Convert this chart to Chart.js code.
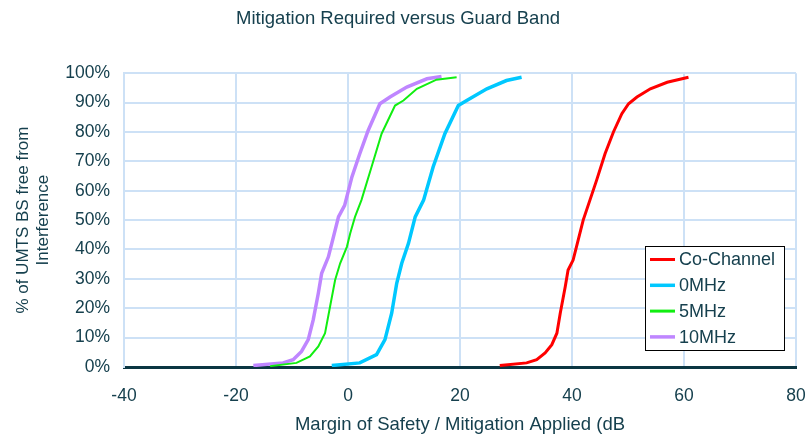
<!DOCTYPE html>
<html>
<head>
<meta charset="utf-8">
<script src="https://cdn.jsdelivr.net/npm/chart.js@4.4.1/dist/chart.umd.min.js"></script>
<style>
  html, body { margin: 0; padding: 0; background: #fff; }
  #wrap { width: 808px; height: 437px; }
</style>
</head>
<body>
<div id="wrap"><canvas id="guardBandChart" width="808" height="437"></canvas></div>
<script>
const seriesNames = ['Co-Channel', '0MHz', '5MHz', '10MHz'];

// margin values (dB) and cumulative %
const coChannelX = [27.1, 31.9, 33.7, 35.2, 36.4, 37.3, 37.9, 38.8, 39.3, 40.2, 41.1, 42, 43.2, 44.4, 45.9, 47.4, 48.9, 50.1, 51.6, 54, 57, 60.8];
const coChannelY = [0.5, 1.4, 2.5, 4.8, 7.6, 11.5, 18.3, 27.4, 33, 36.4, 43.2, 50, 56.8, 63.6, 72.6, 80, 86.2, 89.6, 91.9, 94.7, 96.9, 98.6];

const mhz0X = [-2.9, 2.1, 5.1, 6.6, 7.8, 8.7, 9.6, 10.8, 12, 13.5, 15.2, 17.3, 19.7, 21.2, 24.8, 28.3, 31];
const mhz0Y = [0.5, 1.4, 4.2, 9.3, 18.3, 28.5, 35.3, 42.1, 51.1, 56.8, 68.1, 79.4, 89, 90.7, 94.7, 97.5, 98.6];

const mhz5X = [-13.9, -9.2, -6.8, -5.3, -4.1, -3.2, -2.3, -1.4, -0.2, 0.4, 1.25, 2.4, 4.2, 6, 8.4, 9.9, 12.3, 15.8, 19.4];
const mhz5Y = [0.3, 1.4, 3.6, 7, 11.5, 20.6, 29.6, 35.3, 40.9, 45.5, 51.1, 56.8, 68.1, 79.4, 89, 90.7, 94.7, 97.8, 98.6];

const mhz10X = [-16.9, -11.6, -9.8, -8.3, -7.1, -6.2, -5.3, -4.7, -3.5, -2.6, -1.7, -0.6, 0.7, 2.1, 3.6, 5.7, 7.5, 10.5, 14.1, 16.7];
const mhz10Y = [0.5, 1.4, 2.5, 5.3, 9.3, 16.1, 25.1, 31.9, 37.5, 44.3, 51.1, 55, 64.7, 72.6, 80.5, 89.6, 91.9, 95.3, 98.1, 98.9];

const xTicks = [-40, -20, 0, 20, 40, 60, 80];
const yTicks = [0, 10, 20, 30, 40, 50, 60, 70, 80, 90, 100];

const textColor = '#16404e';
const gridColor = '#cde1f6';
const fontFamily = "'Liberation Sans', Arial, sans-serif";

function toPoints(xs, ys) {
  return xs.map((x, i) => ({ x: x, y: ys[i] }));
}

const colors = ['#ff0000', '#00c8ff', '#11ee11', '#bf86ff'];
const widths = [3, 3.5, 2, 3.5];
const allX = [coChannelX, mhz0X, mhz5X, mhz10X];
const allY = [coChannelY, mhz0Y, mhz5Y, mhz10Y];

const datasets = seriesNames.map((name, i) => ({
  label: name,
  data: toPoints(allX[i], allY[i]),
  borderColor: colors[i],
  backgroundColor: colors[i],
  borderWidth: widths[i],
  showLine: true,
  pointRadius: 0,
  tension: 0,
  fill: false
}));

// legend box drawn inside the plot, lower right
const boxLegend = {
  id: 'boxLegend',
  afterDatasetsDraw(chart) {
    const ctx = chart.ctx;
    const x0 = 645, y0 = 246, w = 139, h = 104;
    ctx.save();
    ctx.fillStyle = '#fff';
    ctx.fillRect(x0, y0, w, h);
    ctx.strokeStyle = '#000';
    ctx.lineWidth = 1;
    ctx.strokeRect(x0 + 0.5, y0 + 0.5, w, h);
    ctx.font = '18px ' + fontFamily;
    ctx.textBaseline = 'middle';
    chart.data.datasets.forEach((ds, i) => {
      const y = y0 + 13.5 + i * 25.8;
      ctx.strokeStyle = ds.borderColor;
      ctx.lineWidth = Math.max(ds.borderWidth, 3);
      ctx.beginPath();
      ctx.moveTo(x0 + 5, y);
      ctx.lineTo(x0 + 30, y);
      ctx.stroke();
      ctx.fillStyle = textColor;
      ctx.fillText(ds.label, x0 + 34, y + 1);
    });
    ctx.restore();
  }
};

new Chart(document.getElementById('guardBandChart'), {
  type: 'scatter',
  data: { datasets: datasets },
  plugins: [boxLegend],
  options: {
    responsive: false,
    animation: false,
    layout: { padding: { left: 0, right: 12, top: 0, bottom: 0 } },
    plugins: {
      legend: { display: false },
      tooltip: { enabled: false },
      title: {
        display: true,
        text: 'Mitigation Required versus Guard Band',
        color: textColor,
        font: { family: fontFamily, size: 18.5, weight: 'normal' },
        padding: { top: 8, bottom: 43 }
      }
    },
    scales: {
      x: {
        type: 'linear',
        min: -40,
        max: 80,
        afterBuildTicks: (s) => { s.ticks = xTicks.map(v => ({ value: v })); },
        afterFit: (s) => { s.height = 70; s.paddingLeft = 0; s.paddingRight = 0; },
        ticks: { color: textColor, padding: 19, font: { family: fontFamily, size: 17.5 } },
        grid: { color: gridColor, lineWidth: 2, drawTicks: false },
        border: { color: '#0b3642', width: 3 },
        title: {
          display: true,
          text: 'Margin of Safety / Mitigation Applied (dB',
          color: textColor,
          font: { family: fontFamily, size: 18.5 },
          padding: { top: 0, bottom: 1 }
        }
      },
      y: {
        type: 'linear',
        min: 0,
        max: 100,
        afterBuildTicks: (s) => { s.ticks = yTicks.map(v => ({ value: v })); },
        afterFit: (s) => { s.width = 124; },
        ticks: {
          color: textColor,
          padding: 14,
          font: { family: fontFamily, size: 17.5 },
          callback: (v) => v + '%'
        },
        grid: { color: gridColor, lineWidth: 2, drawTicks: false },
        border: { color: gridColor, width: 2 },
        title: {
          display: true,
          text: ['% of UMTS BS free from', 'Interference'],
          color: textColor,
          font: { family: fontFamily, size: 17 },
          padding: { top: 13, bottom: 0 }
        }
      }
    }
  }
});
</script>
</body>
</html>
